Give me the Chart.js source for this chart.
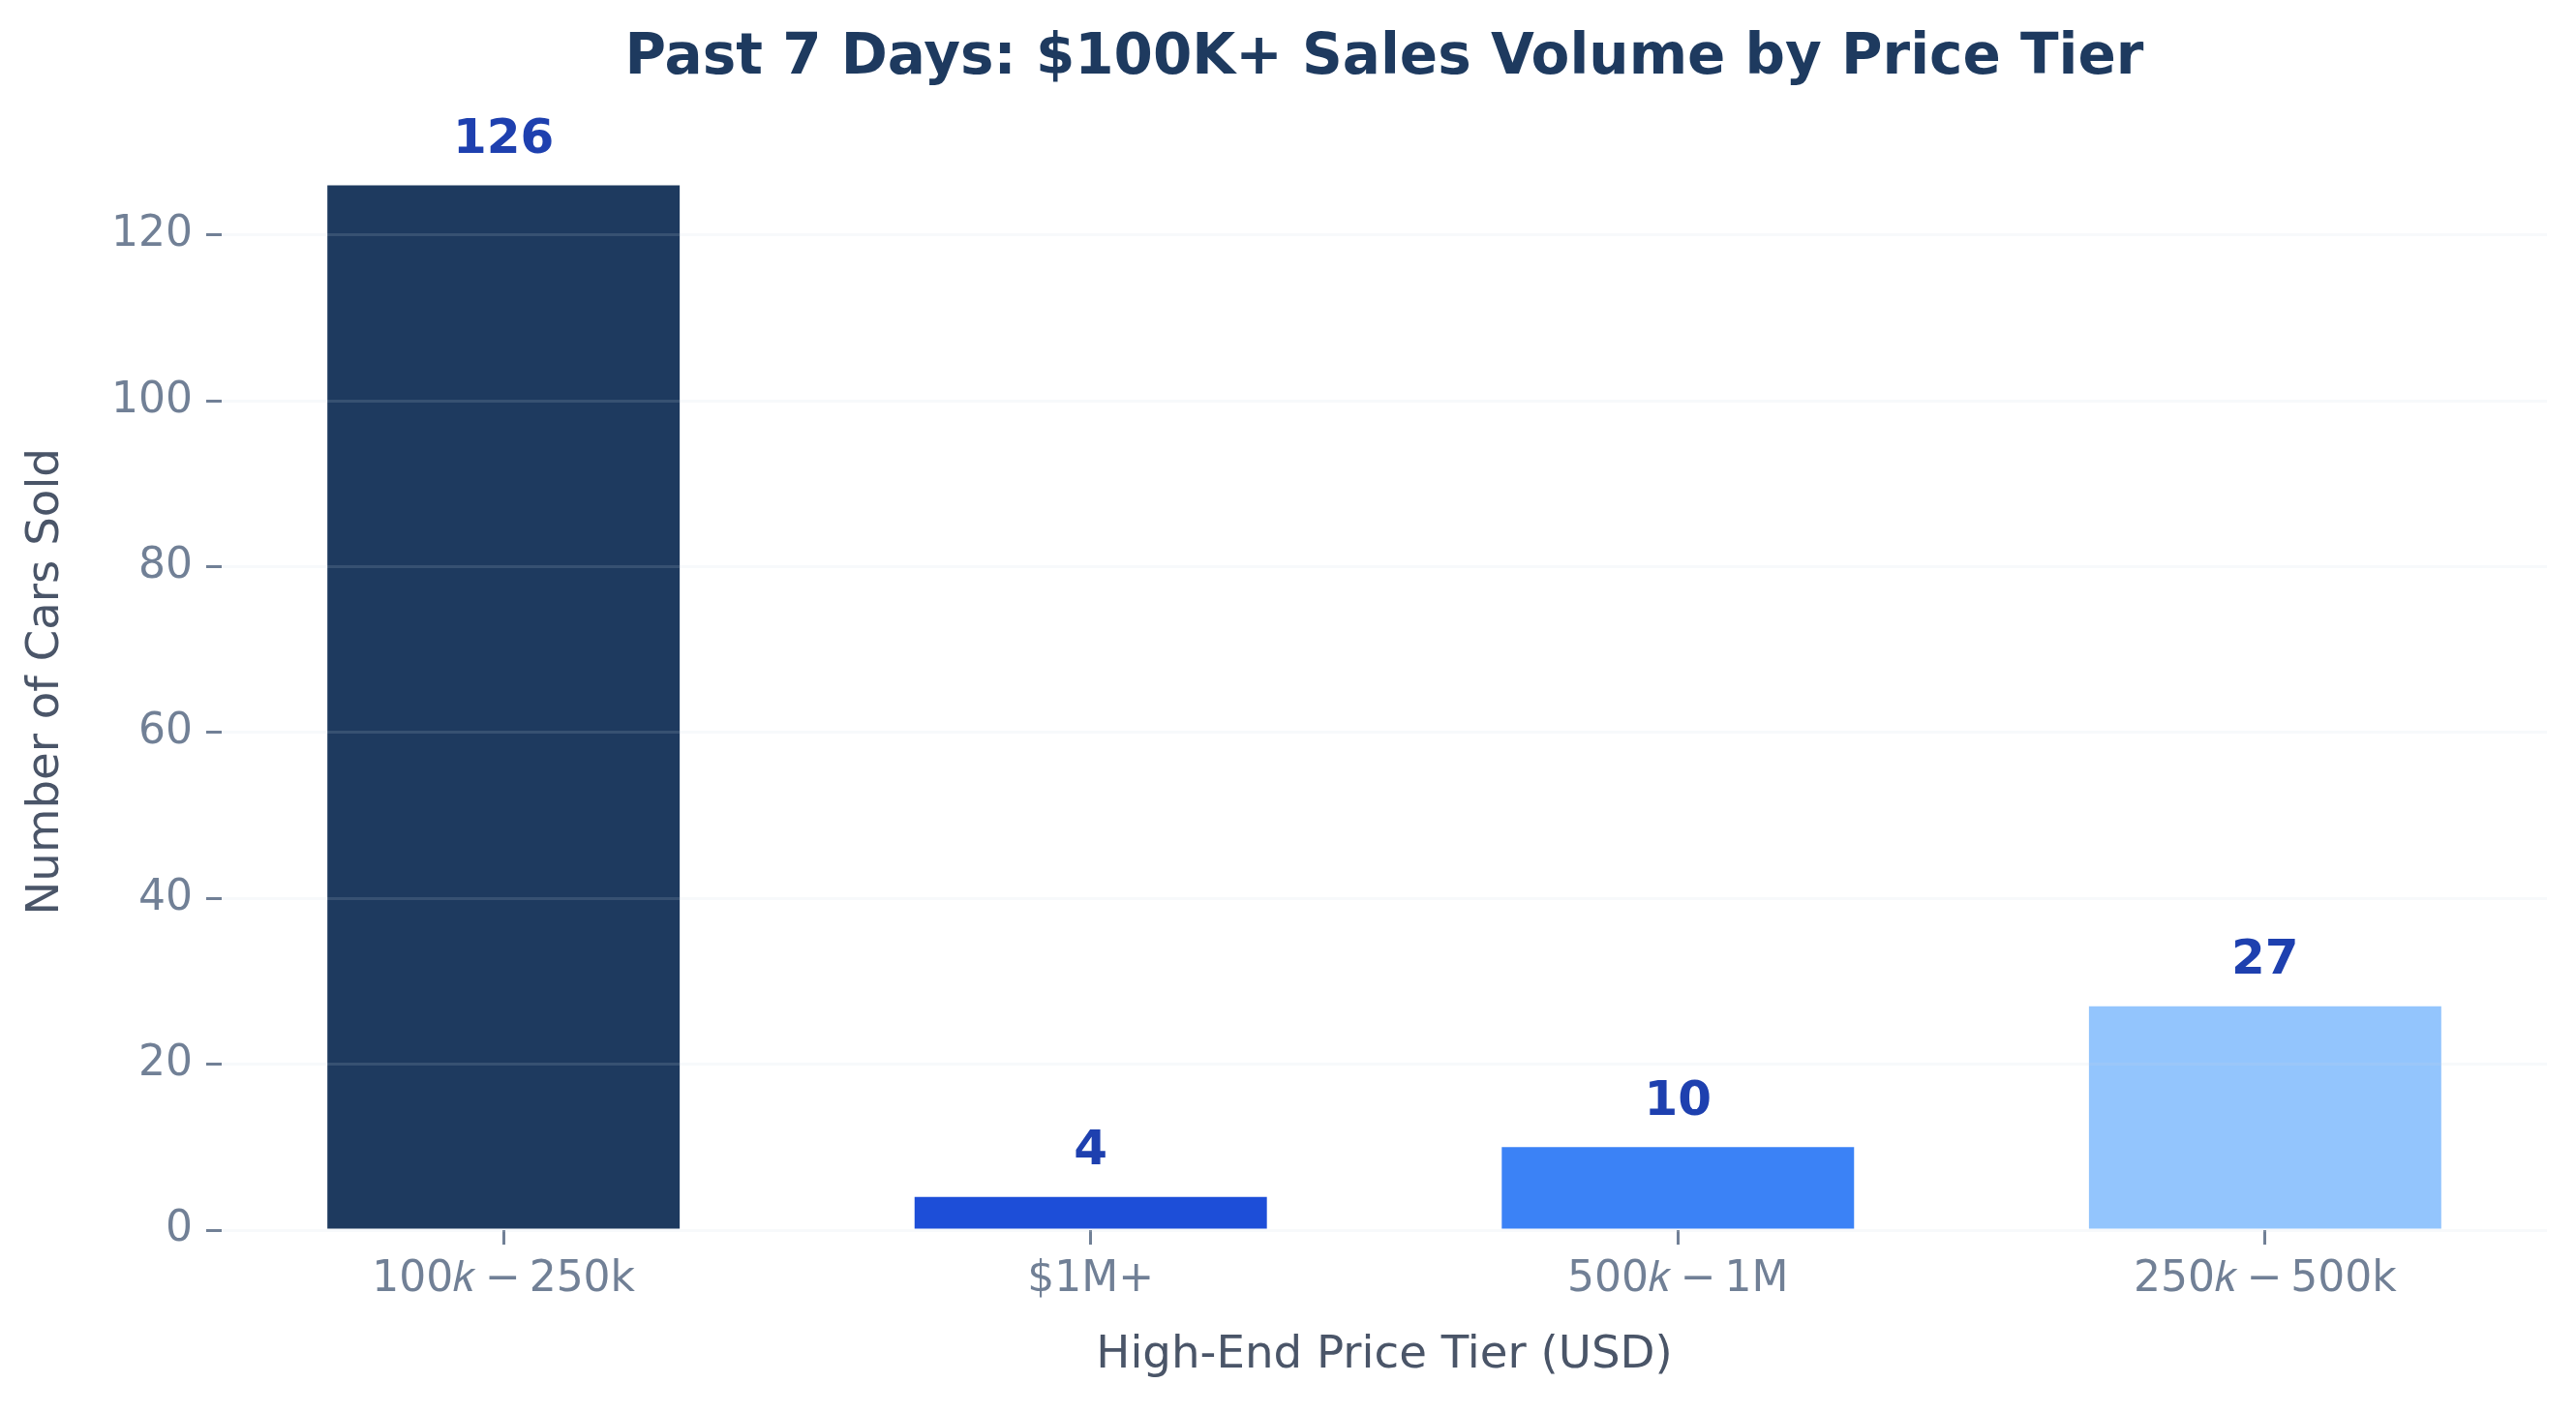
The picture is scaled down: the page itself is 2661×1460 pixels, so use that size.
<!DOCTYPE html>
<html>
<head>
<meta charset="utf-8">
<script src="https://cdn.jsdelivr.net/npm/chart.js@4.4.1/dist/chart.umd.min.js"></script>
<style>
    html, body { margin: 0; padding: 0; background: #ffffff; }
    #wrap { width: 2661px; height: 1460px; }
</style>
</head>
<body>
<div id="wrap"><canvas id="salesChart" width="2661" height="1460"></canvas></div>
<script>
// chart data
const tiers = ['100𝑘\u2009−\u2009250k', '$1M+', '500𝑘\u2009−\u20091M', '250𝑘\u2009−\u2009500k'];
const carsSold = [126, 4, 10, 27];
const yTicks = [0, 20, 40, 60, 80, 100, 120];

const barColors = ['#1e3a5f', '#1d4ed8', '#3b82f6', '#93c5fd'];
const font = '"DejaVu Sans", "Liberation Sans", sans-serif';

// value labels drawn just above every bar
const valueLabels = {
    id: 'valueLabels',
    afterDatasetsDraw(chart) {
        let { ctx, scales: { x, y } } = chart;
        let lift = Math.max(...carsSold) * 0.02;
        ctx.save();
        ctx.font = 'bold 50px ' + font;
        ctx.fillStyle = '#1e40af';
        ctx.textAlign = 'center';
        ctx.textBaseline = 'alphabetic';
        carsSold.forEach((v, i) => {
            ctx.fillText(String(v), x.getPixelForValue(i), y.getPixelForValue(v + lift) - 12);
        });
        ctx.restore();
    }
};

let ctx = document.getElementById('salesChart').getContext('2d');

new Chart(ctx, {
    type: 'bar',
    data: {
        datasets: [{
            data: carsSold.map((v, i) => ({ x: i, y: v })),
            backgroundColor: barColors,
            borderWidth: 0,
            categoryPercentage: 1,
            barPercentage: 0.6
        }]
    },
    options: {
        responsive: false,
        devicePixelRatio: 1,
        animation: false,
        layout: { padding: { left: 0, right: 30, top: 0, bottom: 0 } },
        plugins: {
            legend: { display: false },
            tooltip: { enabled: false },
            title: {
                display: true,
                text: 'Past 7 Days: $100K+ Sales Volume by Price Tier',
                color: '#1e3a5f',
                fullSize: false,
                font: { family: font, size: 58, weight: 'bold' },
                padding: { top: 26, bottom: 42 }
            }
        },
        scales: {
            x: {
                type: 'linear',
                min: -0.48,
                max: 3.48,
                offset: false,
                border: { display: false },
                grid: {
                    offset: false,
                    drawOnChartArea: false,
                    drawTicks: true,
                    tickLength: 15,
                    tickWidth: 3,
                    tickColor: '#718096'
                },
                afterBuildTicks: scale => {
                    scale.ticks = tiers.map((t, i) => ({ value: i }));
                },
                afterFit: scale => { scale.height = 189; },
                ticks: {
                    autoSkip: false,
                    maxRotation: 0,
                    padding: 10,
                    color: '#718096',
                    font: { family: font, size: 44 },
                    callback: value => tiers[value]
                },
                title: {
                    display: true,
                    text: 'High-End Price Tier (USD)',
                    color: '#4a5568',
                    font: { family: font, size: 46.7 },
                    padding: { top: 0, bottom: 31 }
                }
            },
            y: {
                min: 0,
                max: 132.3,
                border: { display: false },
                grid: {
                    z: 1,
                    color: 'rgba(203, 213, 225, 0.15)',
                    lineWidth: 3,
                    tickLength: 16,
                    tickWidth: 3,
                    tickColor: '#718096'
                },
                afterBuildTicks: scale => {
                    scale.ticks = yTicks.map(v => ({ value: v }));
                },
                afterFit: scale => { scale.width = 229; },
                ticks: {
                    padding: 14,
                    color: '#718096',
                    font: { family: font, size: 44 }
                },
                title: {
                    display: true,
                    text: 'Number of Cars Sold',
                    color: '#4a5568',
                    font: { family: font, size: 46.7 },
                    padding: { top: 20, bottom: 0 }
                }
            }
        }
    },
    plugins: [valueLabels]
});
</script>
</body>
</html>
